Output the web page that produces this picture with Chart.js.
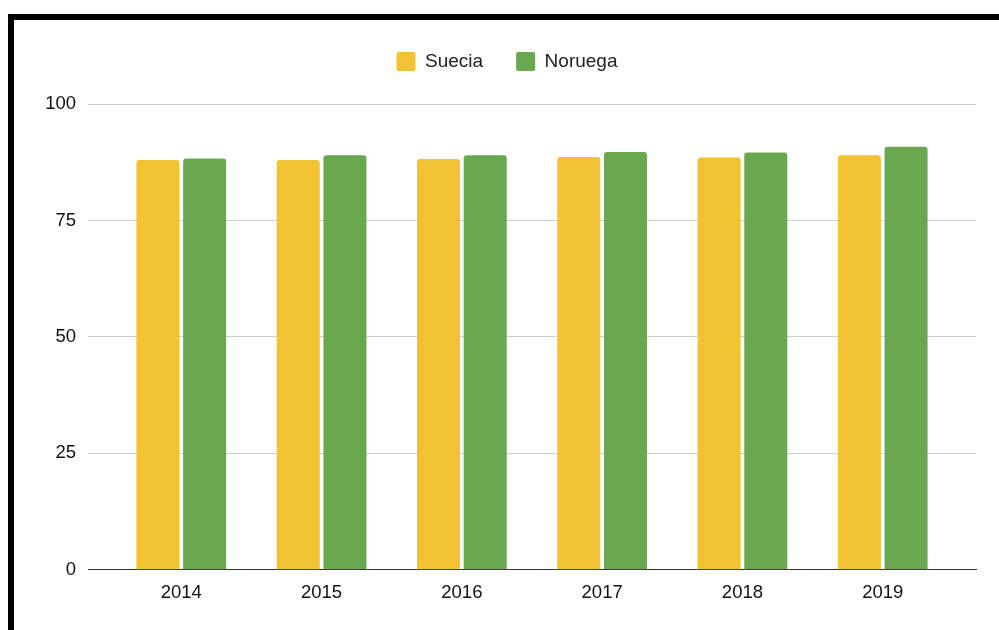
<!DOCTYPE html>
<html>
<head>
<meta charset="utf-8">
<script src="https://cdn.jsdelivr.net/npm/chart.js@4.4.1/dist/chart.umd.min.js"></script>
<style>
  html, body { margin: 0; padding: 0; background: #fff; }
  #wrap { position: relative; width: 999px; height: 630px; overflow: hidden; }
  #frame { position: absolute; left: 8px; top: 14px; right: -10px; bottom: -10px;
           border-top: 6px solid #000; border-left: 6px solid #000; pointer-events: none; }
  canvas { position: absolute; left: 0; top: 0; }
</style>
</head>
<body>
<div id="wrap">
  <div id="frame"></div>
  <canvas id="c" width="999" height="630"></canvas>
</div>
<script>
const years = ['2014', '2015', '2016', '2017', '2018', '2019'];
const suecia = [88.0, 88.0, 88.2, 88.6, 88.5, 89.0];
const noruega = [88.3, 89.0, 89.0, 89.7, 89.6, 90.8];
const yTicks = [0, 25, 50, 75, 100];

const FONT = '"Liberation Sans", Arial, sans-serif';

const toPoints = arr => arr.map((v, i) => ({ x: i, y: v }));

const legendSpacer = {
  id: 'legendSpacer',
  beforeInit(chart) {
    const origFit = chart.legend.fit;
    chart.legend.fit = function () {
      origFit.bind(chart.legend)();
      this.height += 23;
    };
  }
};

new Chart(document.getElementById('c'), {
  type: 'bar',
  data: {
    datasets: [
      { label: 'Suecia', data: toPoints(suecia), backgroundColor: '#f1c232', borderWidth: 0, borderRadius: 3 },
      { label: 'Noruega', data: toPoints(noruega), backgroundColor: '#6aa84f', borderWidth: 0, borderRadius: 3 }
    ]
  },
  options: {
    responsive: false,
    devicePixelRatio: 1,
    animation: false,
    categoryPercentage: 0.666,
    barPercentage: 0.921,
    layout: { padding: { left: 38, right: 23, top: 19, bottom: 14 } },
    plugins: {
      tooltip: { enabled: false },
      legend: {
        position: 'top',
        labels: {
          boxWidth: 19, boxHeight: 19, padding: 33,
          useBorderRadius: true, borderRadius: 2,
          color: '#222',
          font: { family: FONT, size: 19 }
        }
      }
    },
    scales: {
      x: {
        type: 'linear',
        offset: false,
        min: -0.665, max: 5.665,
        grid: { display: false, drawTicks: false },
        border: { display: true, color: '#333', width: 1 },
        afterBuildTicks(scale) {
          scale.ticks = years.map((y, i) => ({ value: i }));
        },
        ticks: {
          padding: 12,
          color: '#111',
          font: { family: FONT, size: 18.5 },
          autoSkip: false, maxRotation: 0,
          callback: v => years[Math.round(v)]
        }
      },
      y: {
        min: 0, max: 100,
        afterBuildTicks(scale) {
          scale.ticks = yTicks.map(v => ({ value: v }));
        },
        afterFit(scale) { scale.width = 50; },
        grid: {
          drawTicks: false,
          color: ctx => (ctx.tick && ctx.tick.value === 0) ? '#333' : '#cccccc',
          lineWidth: 1
        },
        border: { display: false },
        ticks: {
          padding: 12,
          color: '#111',
          font: { family: FONT, size: 18.5 }
        }
      }
    }
  },
  plugins: [legendSpacer]
});
</script>
</body>
</html>
